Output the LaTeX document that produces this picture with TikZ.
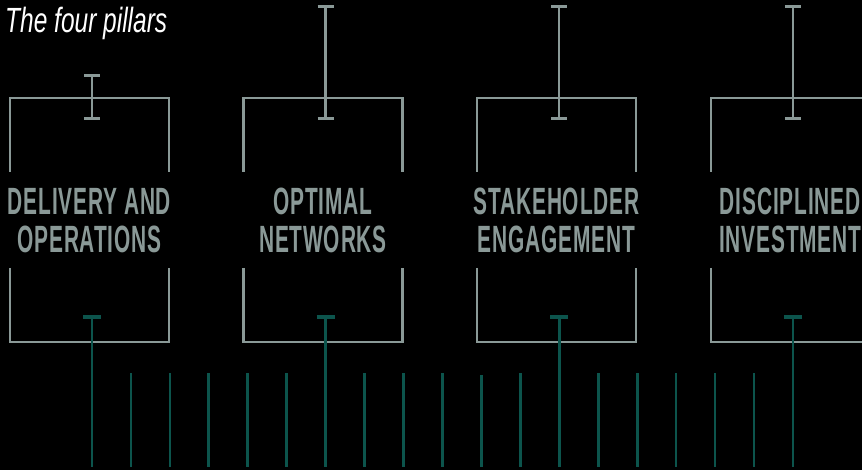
\documentclass[tikz,border=0pt]{standalone}
\usepackage{fontspec}
\setmainfont{Liberation Sans}
\newfontfamily\pillarfont[FakeStretch=0.55,LetterSpace=2.2]{Liberation Sans}
\newfontfamily\headfont[FakeStretch=0.7]{Liberation Sans}
\definecolor{pgrey}{RGB}{138,153,151}
\definecolor{pteal}{RGB}{12,84,76}
\tikzset{
  bracket/.style={draw=pgrey, line width=2.4pt},
  ibeam/.style={draw=pgrey, line width=2.2pt},
  ibeamcap/.style={draw=pgrey, line width=3pt},
  tick/.style={draw=pteal, line width=2.7pt},
  tickcap/.style={draw=pteal, line width=3.5pt},
  pillarlabel/.style={text=pgrey, font=\pillarfont\bfseries\fontsize{38}{38}\selectfont, align=center, inner sep=0pt, anchor=center},
  titletext/.style={text=white, font=\headfont\itshape\fontsize{35}{40}\selectfont, inner sep=0pt, anchor=base west}
}
\begin{document}
\begin{tikzpicture}[x=1pt,y=-1pt]
\path[use as bounding box, fill=black] (0,0) rectangle (862,470);
\node[titletext] (title) at (5,33) {The four pillars};
% pillars
\foreach \i/\lx/\itop/\txt in {1/10/75.5/{DELIVERY AND\\OPERATIONS},2/243.5/7/{OPTIMAL\\NETWORKS},3/477/7/{STAKEHOLDER\\ENGAGEMENT},4/710.8/7/{DISCIPLINED\\INVESTMENT}}{
  \pgfmathsetmacro\rx{\lx+159}
  \pgfmathsetmacro\cx{\lx+79.5}
  \pgfmathsetmacro\bx{\lx+82}
  \draw[bracket] (\lx,172) -- (\lx,98) -- (\rx,98) -- (\rx,172);
  \draw[bracket] (\lx,268) -- (\lx,342) -- (\rx,342) -- (\rx,268);
  \node[pillarlabel] (lab\i) at (\cx,220.5) {\txt};
  \coordinate (it\i) at (\bx,\itop);
  \coordinate (ib\i) at (\bx,119);
  \draw[ibeam] (it\i) -- (ib\i);
  \draw[ibeamcap] ([xshift=-8pt]it\i) -- ([xshift=8pt]it\i);
  \draw[ibeamcap] ([xshift=-8pt]ib\i) -- ([xshift=8pt]ib\i);
}
% teal ticks
\foreach \k in {0,...,18}{
  \pgfmathsetmacro\tx{92+38.94*\k}
  \pgfmathtruncatemacro\m{mod(\k,6)}
  \coordinate (tb\k) at (\tx,467);
  \ifnum\m=0
    \coordinate (tt\k) at (\tx,317);
    \draw[tick] (tt\k) -- (tb\k);
    \draw[tickcap] ([xshift=-9pt]tt\k) -- ([xshift=9pt]tt\k);
  \else
    \ifnum\k=10
      \coordinate (tt\k) at (\tx,375);
    \else
      \coordinate (tt\k) at (\tx,373);
    \fi
    \draw[tick] (tt\k) -- (tb\k);
  \fi
}
\end{tikzpicture}
\end{document}
